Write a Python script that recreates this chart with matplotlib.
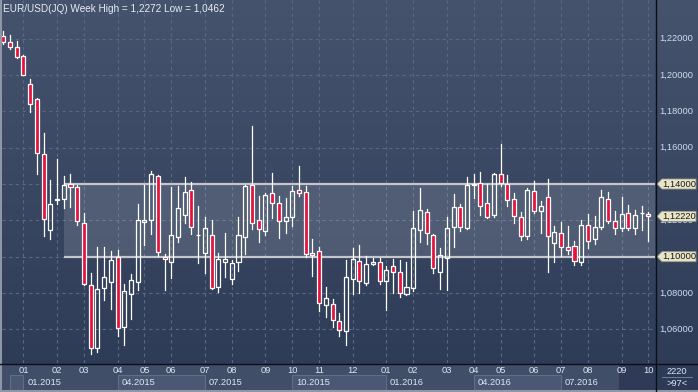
import matplotlib
matplotlib.use("Agg")
import matplotlib.pyplot as plt
import numpy as np
from matplotlib.patches import Rectangle, Polygon
from matplotlib.colors import LinearSegmentedColormap
from matplotlib.transforms import blended_transform_factory

# ---------------- data ----------------
opens = [1.2216, 1.2180, 1.2152, 1.2103, 1.1949, 1.1866, 1.1563, 1.1145, 1.1314, 1.1316,
         1.1398, 1.1382, 1.1184, 1.0842, 1.0500, 1.0826, 1.0863, 1.1000, 1.0611, 1.0793,
         1.0863, 1.1189, 1.1200, 1.1442, 1.1000, 1.0968, 1.1107, 1.1227, 1.1366, 1.1118,
         1.1023, 1.1118, 1.0835, 1.0973, 1.0876, 1.0968, 1.1107, 1.1393, 1.1200, 1.1143,
         1.1349, 1.1294, 1.1195, 1.1217, 1.1365, 1.1354, 1.1019, 1.1030, 1.0732, 1.0738,
         1.0644, 1.0589, 1.0876, 1.0975, 1.0857, 1.0961, 1.0969, 1.0868, 1.0947, 1.0914,
         1.0793, 1.0826, 1.1145, 1.1244, 1.1119, 1.0917, 1.0991, 1.1165, 1.1272, 1.1159,
         1.1393, 1.1404, 1.1294, 1.1231, 1.1453, 1.1398, 1.1316, 1.1217, 1.1112, 1.1360,
         1.1250, 1.1327, 1.1074, 1.1129, 1.1052, 1.1057, 1.0969, 1.1173, 1.1096, 1.1162,
         1.1316, 1.1195, 1.1156, 1.1239, 1.1156, 1.1239, 1.1233]
highs = [1.2240, 1.2220, 1.2187, 1.2110, 1.1978, 1.1875, 1.1681, 1.1422, 1.1538, 1.1444,
         1.1455, 1.1394, 1.1239, 1.0909, 1.1055, 1.1055, 1.1031, 1.1037, 1.0850, 1.0905,
         1.1290, 1.1394, 1.1472, 1.1450, 1.1015, 1.1382, 1.1389, 1.1439, 1.1411, 1.1279,
         1.1218, 1.1202, 1.1019, 1.1130, 1.0982, 1.1218, 1.1392, 1.1719, 1.1334, 1.1349,
         1.1461, 1.1332, 1.1323, 1.1389, 1.1499, 1.1389, 1.1097, 1.1053, 1.0833, 1.0767,
         1.0688, 1.0982, 1.1048, 1.1064, 1.1005, 1.0991, 1.0991, 1.0950, 1.0987, 1.0982,
         1.0969, 1.1251, 1.1378, 1.1260, 1.1125, 1.1048, 1.1220, 1.1345, 1.1288, 1.1437,
         1.1455, 1.1466, 1.1398, 1.1459, 1.1620, 1.1450, 1.1349, 1.1244, 1.1376, 1.1415,
         1.1305, 1.1426, 1.1167, 1.1189, 1.1167, 1.1085, 1.1200, 1.1233, 1.1222, 1.1365,
         1.1354, 1.1250, 1.1327, 1.1283, 1.1255, 1.1277, 1.1246]
lows = [1.2173, 1.2141, 1.2095, 1.2000, 1.1798, 1.1457, 1.1115, 1.1099, 1.1290, 1.1270,
        1.1275, 1.1174, 1.0844, 1.0462, 1.0477, 1.0762, 1.0712, 1.0565, 1.0514, 1.0657,
        1.0817, 1.1064, 1.1126, 1.1004, 1.0817, 1.0884, 1.1082, 1.1187, 1.1125, 1.0965,
        1.0910, 1.0824, 1.0806, 1.0890, 1.0851, 1.0923, 1.1016, 1.1154, 1.1082, 1.1121,
        1.1211, 1.1104, 1.1132, 1.1171, 1.1332, 1.0997, 1.0895, 1.0703, 1.0670, 1.0615,
        1.0565, 1.0516, 1.0796, 1.0802, 1.0846, 1.0953, 1.0851, 1.0708, 1.0802, 1.0776,
        1.0787, 1.0813, 1.1082, 1.1068, 1.0912, 1.0824, 1.0817, 1.1055, 1.1143, 1.1154,
        1.1325, 1.1231, 1.1215, 1.1220, 1.1387, 1.1281, 1.1184, 1.1092, 1.1096, 1.1239,
        1.1129, 1.0914, 1.0969, 1.1002, 1.1013, 1.0953, 1.0953, 1.1046, 1.1068, 1.1151,
        1.1184, 1.1123, 1.1140, 1.1145, 1.1123, 1.1145, 1.1085]
closes = [1.2180, 1.2152, 1.2101, 1.2002, 1.1842, 1.1569, 1.1206, 1.1288, 1.1316, 1.1393,
          1.1382, 1.1194, 1.0848, 1.0496, 1.0820, 1.0887, 1.0982, 1.0606, 1.0809, 1.0870,
          1.1200, 1.1200, 1.1453, 1.1024, 1.0989, 1.1118, 1.1266, 1.1354, 1.1165, 1.1120,
          1.1156, 1.0829, 1.0986, 1.0986, 1.0965, 1.1118, 1.1387, 1.1184, 1.1151, 1.1338,
          1.1297, 1.1198, 1.1217, 1.1360, 1.1349, 1.1013, 1.1008, 1.0743, 1.0771, 1.0650,
          1.0595, 1.0887, 1.0986, 1.0864, 1.0958, 1.0969, 1.0864, 1.0925, 1.0914, 1.0798,
          1.0831, 1.1156, 1.1255, 1.1129, 1.0936, 1.1008, 1.1156, 1.1272, 1.1165, 1.1393,
          1.1398, 1.1281, 1.1220, 1.1453, 1.1404, 1.1310, 1.1222, 1.1112, 1.1365, 1.1250,
          1.1277, 1.1112, 1.1134, 1.1052, 1.1035, 1.0975, 1.1173, 1.1085, 1.1162, 1.1327,
          1.1195, 1.1156, 1.1233, 1.1156, 1.1228, 1.1241, 1.1222]

month_labels = ["01", "02", "03", "04", "05", "06", "07", "08", "09", "10", "11", "12",
                "01", "02", "03", "04", "05", "06", "07", "08", "09", "10"]
month_pos = [3, 8, 12, 17, 21, 25, 30, 34, 39, 43, 47, 52,
             57, 61, 66, 70, 74, 79, 83, 87, 92, 96]
quarter_labels = ["01.2015", "04.2015", "07.2015", "10.2015", "01.2016", "04.2016", "07.2016"]
quarter_pos = [3, 17, 30, 43, 57, 70, 83]
price_ticks = [1.06, 1.08, 1.10, 1.12, 1.14, 1.16, 1.18, 1.20, 1.22]
band_low, band_high = 1.10, 1.14
band_start = 9
last_price = 1.1222
title = "EUR/USD(JQ) Week High = 1,2272 Low = 1,0462"
bar_count_text = ">97<"
corner_text = "2220"

# ---------------- layout ----------------
W, H = 698, 392
fig = plt.figure(figsize=(W / 100, H / 100), dpi=100)
plt.rcParams['font.family'] = ['Liberation Sans', 'DejaVu Sans']
FS = 6.7

def fx(px):
    return px / W

def fy(py):  # py measured from top
    return 1 - py / H

# background gradient
bg = fig.add_axes([0, 0, 1, 1], zorder=-10)
cmap = LinearSegmentedColormap.from_list("bg", ["#2c3a56", "#45536d"])
grad = np.linspace(0, 1, 256).reshape(-1, 1)
bg.imshow(grad, aspect="auto", cmap=cmap, origin="lower", extent=[0, 1, 0, 1])
bg.set_axis_off()

left_px, right_px, top_px, bot_px = 2, 655, 0, 363
ax = fig.add_axes([fx(left_px), fy(bot_px), fx(right_px - left_px), (bot_px - top_px) / H])
ax.set_facecolor("none")
px_per_bar = 6.72
x0 = -(3.3 - left_px) / px_per_bar
x1 = x0 + (right_px - left_px) / px_per_bar
ax.set_xlim(x0, x1)
ppu = 1817.0
ymax = 1.14 + (184 - top_px) / ppu
ymin = 1.14 - (bot_px - 184) / ppu
ax.set_ylim(ymin, ymax)
for s in ax.spines.values():
    s.set_visible(False)
ax.set_xticks([])
ax.set_yticks([])

grid_c = "#5a6884"
for p in price_ticks:
    ax.axhline(p, color=grid_c, lw=0.8, ls=(0, (3, 3)), zorder=1)
for m in month_pos:
    ax.axvline(m, color=grid_c, lw=0.8, ls=(0, (3, 3)), zorder=1)

# band
ax.add_patch(Rectangle((band_start, band_low), x1 - band_start, band_high - band_low,
                       facecolor="white", alpha=0.13, edgecolor="none", zorder=2))
for b in (band_low, band_high):
    ax.plot([band_start, x1], [b, b], color="#c4c6cc", lw=1.6, zorder=3, solid_capstyle="butt")

# candles
w = 0.6
red = "#e6123b"
for i, (o, h, l, c) in enumerate(zip(opens, highs, lows, closes)):
    top, bot = max(o, c), min(o, c)
    if c >= o:
        ax.plot([i, i], [top, h], color="white", lw=0.9, zorder=5)
        ax.plot([i, i], [l, bot], color="white", lw=0.9, zorder=5)
        ax.add_patch(Rectangle((i - w / 2, bot), w, max(top - bot, 1e-5), facecolor="none",
                               edgecolor="white", lw=0.9, zorder=6))
    else:
        ax.plot([i, i], [l, h], color="white", lw=0.9, zorder=5)
        ax.add_patch(Rectangle((i - w / 2, bot), w, max(top - bot, 1e-5), facecolor=red,
                               edgecolor="white", lw=0.9, zorder=6))

ax.text(0.002, 1 - 8.5 / (bot_px - top_px), title,
        transform=ax.transAxes, color="#e6ecf5", fontsize=7.2, va="center", ha="left", zorder=10)

# right price axis labels
lab_c = "#cfdcf0"
tr = blended_transform_factory(fig.transFigure, ax.transData)
for p in price_ticks:
    if p in (band_low, band_high):
        continue
    ax.text(fx(659), p, f"{p:.5f}".replace(".", ","), transform=tr, color=lab_c,
            fontsize=FS, va="center", ha="left", clip_on=False)

half = 5.0 / ppu
def tag(price):
    xl, xa, xr = fx(657), fx(662), fx(696)
    poly = Polygon([[xl, price], [xa, price + half], [xr, price + half],
                    [xr, price - half], [xa, price - half]], closed=True,
                   transform=tr, facecolor="#e8e5c6", edgecolor="#9a9a90", lw=0.6,
                   clip_on=False, zorder=20)
    ax.add_patch(poly)
    ax.text(fx(662), price, f"{price:.5f}".replace(".", ","), transform=tr, color="#1a1a1a",
            fontsize=FS, va="center", ha="left", clip_on=False, zorder=21)

for p in (band_high, band_low, last_price):
    tag(p)

# separators
fig.add_artist(plt.Line2D([fx(655.5), fx(655.5)], [0, 1], color="#0a0f18", lw=1.0))
fig.add_artist(plt.Line2D([0, 1], [fy(363.5), fy(363.5)], color="#0a0f18", lw=1.0))

# bottom date bar
dax = fig.add_axes([fx(left_px), fy(390), fx(right_px - left_px), 26.5 / H])
dax.set_xlim(x0, x1)
dax.set_ylim(0, 1)
dax.set_facecolor("#404e68")
for s in dax.spines.values():
    s.set_visible(False)
dax.set_xticks([])
dax.set_yticks([])
for lab, m in zip(month_labels, month_pos):
    dax.text(m, 0.72, lab, color="#dde6f3", fontsize=FS, ha="center", va="center")
edges = quarter_pos + [x1]
dax.add_patch(Rectangle((1, 0.0), quarter_pos[0] - 1, 0.58, facecolor="#4a5873",
                        edgecolor="#5f6d88", lw=0.8))
for k, (lab, q) in enumerate(zip(quarter_labels, quarter_pos)):
    if k % 2 == 1:
        dax.add_patch(Rectangle((q, 0.0), edges[k + 1] - q, 0.58, facecolor="#4a5873",
                                edgecolor="#5f6d88", lw=0.8))
    dax.text(q + 0.55, 0.29, lab, color="#dde6f3", fontsize=FS, ha="left", va="center")
dax.add_patch(Rectangle((91.6, 0.0), x1 - 91.6, 1.0, facecolor="#2b3752", alpha=0.8,
                        edgecolor="none"))

# corner
fig.text(fx(677), fy(371), corner_text, color="#dde6f3", fontsize=FS, ha="center", va="center")
fig.add_artist(plt.Line2D([fx(662), fx(692)], [fy(377), fy(377)], color="#7d8aa0", lw=0.6))
fig.text(fx(677), fy(383.5), bar_count_text, color="#dde6f3", fontsize=FS, ha="center", va="center")

# window edges
fig.add_artist(Rectangle((0, 0), fx(2), 1, transform=fig.transFigure, facecolor="#8d97a8",
                         edgecolor="none"))
fig.add_artist(Rectangle((0, 0), 1, 2 / H, transform=fig.transFigure, facecolor="#8d97a8",
                         edgecolor="none"))

fig.savefig("out.png", dpi=100)
